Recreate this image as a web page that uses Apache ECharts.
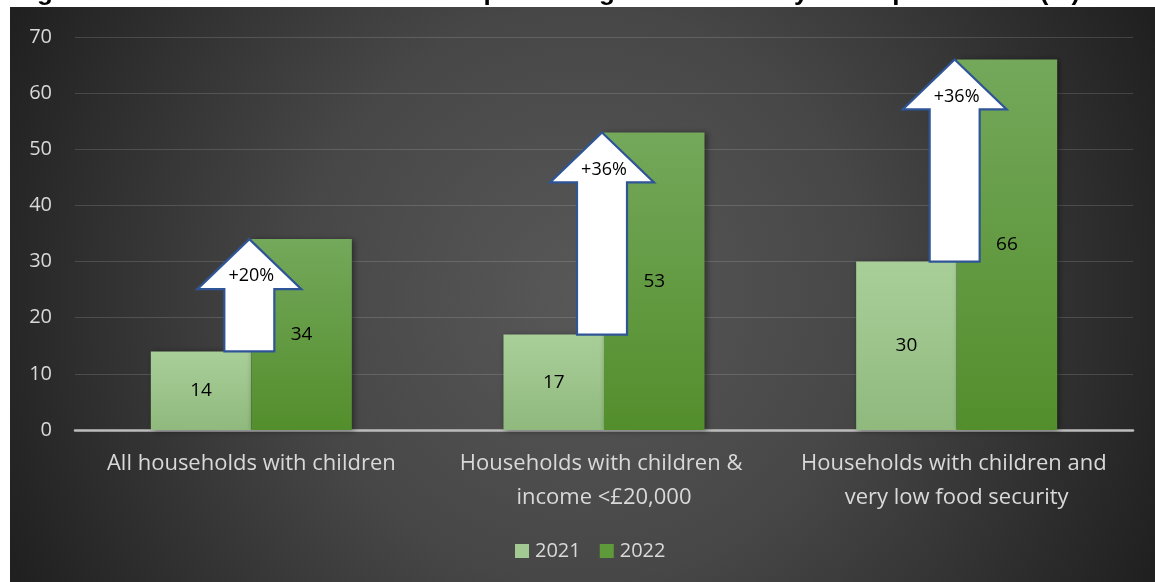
<!DOCTYPE html>
<html>
<head>
<meta charset="utf-8">
<script src="https://cdn.jsdelivr.net/npm/echarts@6/dist/echarts.min.js"></script>
<style>
  html, body { margin: 0; padding: 0; background: #ffffff; }
  #chart { width: 1155px; height: 582px; }
</style>
</head>
<body>
<div id="chart"></div>
<script>
// Household groups on the category axis
const categories = [
  'All households with children',
  'Households with children & income <£20,000',
  'Households with children and very low food security'
];
const years = ['2021', '2022'];
// Share of households (%) per year
const values2021 = [14, 17, 30];
const values2022 = [34, 53, 66];
// Change annotations drawn as block arrows from the 2021 to the 2022 level
const changeLabels = ['+20%', '+36%', '+36%'];
const yTicks = { min: 0, max: 70, interval: 10 };

const FONT = '"Open Sans", "Noto Sans", sans-serif';
const TEXT_GREY = '#d9d9d9';

const chart = echarts.init(document.getElementById('chart'), null, { renderer: 'canvas' });

const arrowData = categories.map((c, i) => [i, values2021[i], values2022[i]]);

function renderArrow(params, api) {
  const idx = api.value(0);
  const base = api.coord([idx, api.value(1)]);
  const tip = api.coord([idx, api.value(2)]);
  const cx = base[0] - 2;
  const yTop = tip[1];
  const yBot = base[1];
  const headHalf = 52;
  const shaftHalf = 25;
  const headH = 50;
  const points = [
    [cx, yTop],
    [cx + headHalf, yTop + headH],
    [cx + shaftHalf, yTop + headH],
    [cx + shaftHalf, yBot],
    [cx - shaftHalf, yBot],
    [cx - shaftHalf, yTop + headH],
    [cx - headHalf, yTop + headH]
  ];
  return {
    type: 'group',
    children: [
      {
        type: 'polygon',
        shape: { points: points },
        style: { fill: '#ffffff', stroke: '#2F5597', lineWidth: 2.2 }
      },
      {
        type: 'text',
        style: {
          x: cx + 2,
          y: yTop + headH - 13,
          text: changeLabels[params.dataIndex],
          fill: '#000000',
          font: '18px ' + FONT,
          textAlign: 'center',
          textVerticalAlign: 'middle'
        }
      }
    ]
  };
}

function barGradient(top, bottom) {
  return new echarts.graphic.LinearGradient(0, 0, 0, 1, [
    { offset: 0, color: top },
    { offset: 1, color: bottom }
  ]);
}

const barShadow = {
  shadowBlur: 6,
  shadowColor: 'rgba(0,0,0,0.45)',
  shadowOffsetX: 2,
  shadowOffsetY: 1
};

const option = {
  animation: false,
  backgroundColor: '#ffffff',
  graphic: [
    {
      type: 'rect',
      z: -10,
      silent: true,
      shape: { x: 10, y: 7, width: 1145, height: 575 },
      style: {
        fill: new echarts.graphic.RadialGradient(0.5, 0.5, 1.1, [
          { offset: 0, color: '#585858' },
          { offset: 0.45, color: '#474747' },
          { offset: 1, color: '#202020' }
        ])
      }
    },
    {
      // heading sits above the top edge of the canvas, so only its lower part shows
      type: 'text',
      z: -5,
      silent: true,
      style: {
        x: 14,
        y: 6,
        text: 'Figure 4: Households with children experiencing food insecurity in the past month (%)',
        fill: '#000000',
        font: 'bold 26px "Liberation Sans", sans-serif',
        textVerticalAlign: 'bottom'
      }
    }
  ],
  grid: { left: 75, right: 22, top: 37, bottom: 152, containLabel: false },
  legend: {
    left: 510,
    top: 536,
    itemWidth: 14,
    itemHeight: 14,
    itemGap: 19,
    icon: 'rect',
    textStyle: { color: TEXT_GREY, fontSize: 20, fontFamily: FONT, padding: [0, 0, 0, 1] },
    data: [
      { name: years[0], itemStyle: { color: '#a2c992' } },
      { name: years[1], itemStyle: { color: '#5f9a3a' } }
    ]
  },
  xAxis: {
    type: 'category',
    data: categories,
    axisLine: { lineStyle: { color: '#bdbdbd', width: 2.5 } },
    axisTick: { show: false },
    axisLabel: {
      color: TEXT_GREY,
      fontSize: 22,
      fontFamily: FONT,
      lineHeight: 34,
      margin: 17,
      width: 330,
      overflow: 'break',
      interval: 0
    }
  },
  yAxis: {
    type: 'value',
    min: yTicks.min,
    max: yTicks.max,
    interval: yTicks.interval,
    axisLine: { show: false },
    axisTick: { show: false },
    axisLabel: { color: TEXT_GREY, fontSize: 20, fontFamily: FONT, margin: 23 },
    splitLine: { lineStyle: { color: 'rgba(255,255,255,0.14)', width: 1 } }
  },
  series: [
    {
      name: years[0],
      type: 'bar',
      data: values2021,
      barGap: '0%',
      barCategoryGap: '43%',
      itemStyle: Object.assign({ color: barGradient('#a9cf99', '#8fb97d') }, barShadow),
      label: { show: true, position: 'inside', color: '#000', fontSize: 19, fontFamily: FONT }
    },
    {
      name: years[1],
      type: 'bar',
      data: values2022,
      itemStyle: Object.assign({ color: barGradient('#74a85b', '#538e2c') }, barShadow),
      label: { show: true, position: 'inside', color: '#000', fontSize: 19, fontFamily: FONT }
    },
    {
      name: 'change',
      type: 'custom',
      z: 5,
      data: arrowData,
      encode: { x: 0, y: [1, 2] },
      renderItem: renderArrow,
      silent: true
    }
  ]
};

chart.setOption(option);
</script>
</body>
</html>
